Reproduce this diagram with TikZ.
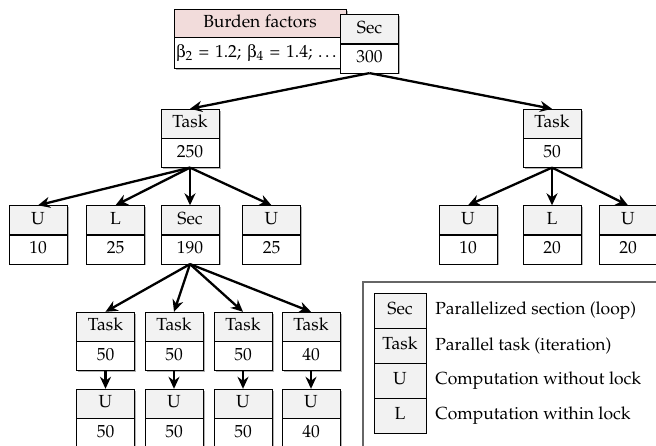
\documentclass[tikz,border=0pt]{standalone}
\usepackage[T1]{fontenc}
\usepackage{mathpazo}
\usepackage[Symbol]{upgreek}
\usepackage{tikz}
\usetikzlibrary{positioning,shadows,arrows.meta}

\definecolor{hdgray}{HTML}{F2F2F2}
\definecolor{bfpink}{HTML}{F2DCDB}

\tikzset{
  every node/.style={font=\fontsize{17.5}{20}\selectfont},
  hd/.style={draw, fill=hdgray, minimum width=58pt, minimum height=29pt,
    inner sep=0pt, text height=12pt, text depth=3.5pt,
    drop shadow={shadow xshift=1.5pt, shadow yshift=-1.5pt, fill=black!30, opacity=1}},
  val/.style={hd, fill=white},
  key/.style={draw, fill=hdgray, minimum width=52pt, minimum height=35pt,
    inner sep=0pt, text height=12pt, text depth=3.5pt},
  arr/.style={-{Stealth[length=12pt, width=11pt]}, line width=2.3pt},
}

% header cell + value cell
\newcommand{\blk}[5]{%
  \node[hd] (#1) at (#2,#3) {#4};
  \node[val, below=0pt of #1] (#1v) {#5};
}

\begin{document}
\begin{tikzpicture}[x=1pt, y=-1pt]
    \useasboundingbox (0,0) rectangle (656,445);

    % burden factors, behind the top section
    \node[hd, fill=bfpink, minimum width=172pt, minimum height=28pt] (bf) at (260,23) {Burden factors};
    \node[val, minimum width=172pt, minimum height=31pt, text width=168pt, inner xsep=2pt, align=left,
      below=0pt of bf] (bfv) {$\upbeta_2$ = 1.2; $\upbeta_4$ = 1.4; \ldots};

    \blk{sec}{369.5}{29}{Sec}{300}

    \blk{t1}{190}{123.5}{Task}{250}
    \blk{t2}{552}{123.5}{Task}{50}

    \blk{a1}{38}{220}{U}{10}
    \blk{a2}{115.5}{220}{L}{25}
    \blk{s2}{190}{220}{Sec}{190}
    \blk{a4}{271.5}{220}{U}{25}

    \blk{b1}{468}{220}{U}{10}
    \blk{b2}{552}{220}{L}{20}
    \blk{b3}{628}{220}{U}{20}

    \draw[arr] (secv.south) -- (t1.north);
    \draw[arr] (secv.south) -- (t2.north);

    \foreach \n in {a1,a2,s2,a4}
    \draw[arr] (t1v.south) -- (\n.north);
    \foreach \n in {b1,b2,b3}
    \draw[arr] (t2v.south) -- (\n.north);

    \foreach \x/\v [count=\i] in {105.5/50,174/50,243/50,311/40} {
        \blk{k\i}{\x}{326.5}{Task}{\v}
        \blk{u\i}{\x}{403.5}{U}{\v}
        \draw[arr] (s2v.south) -- (k\i.north);
        \draw[arr] (k\i v.south) -- (u\i.north);
    }

    % legend
    \draw[black!60, line width=1.2pt, fill=white] (363,282) rectangle (680,470);
    \foreach \k/\t [count=\i] in {Sec/Parallelized section (loop),Task/Parallel task (iteration),
        U/Computation without lock,L/Computation within lock} {
        \node[key] (lg\i) at (400,275.5+35*\i) {\k};
        \node[right=9pt of lg\i, inner sep=0pt] (lt\i) {\t};
    }

\end{tikzpicture}
\end{document}
